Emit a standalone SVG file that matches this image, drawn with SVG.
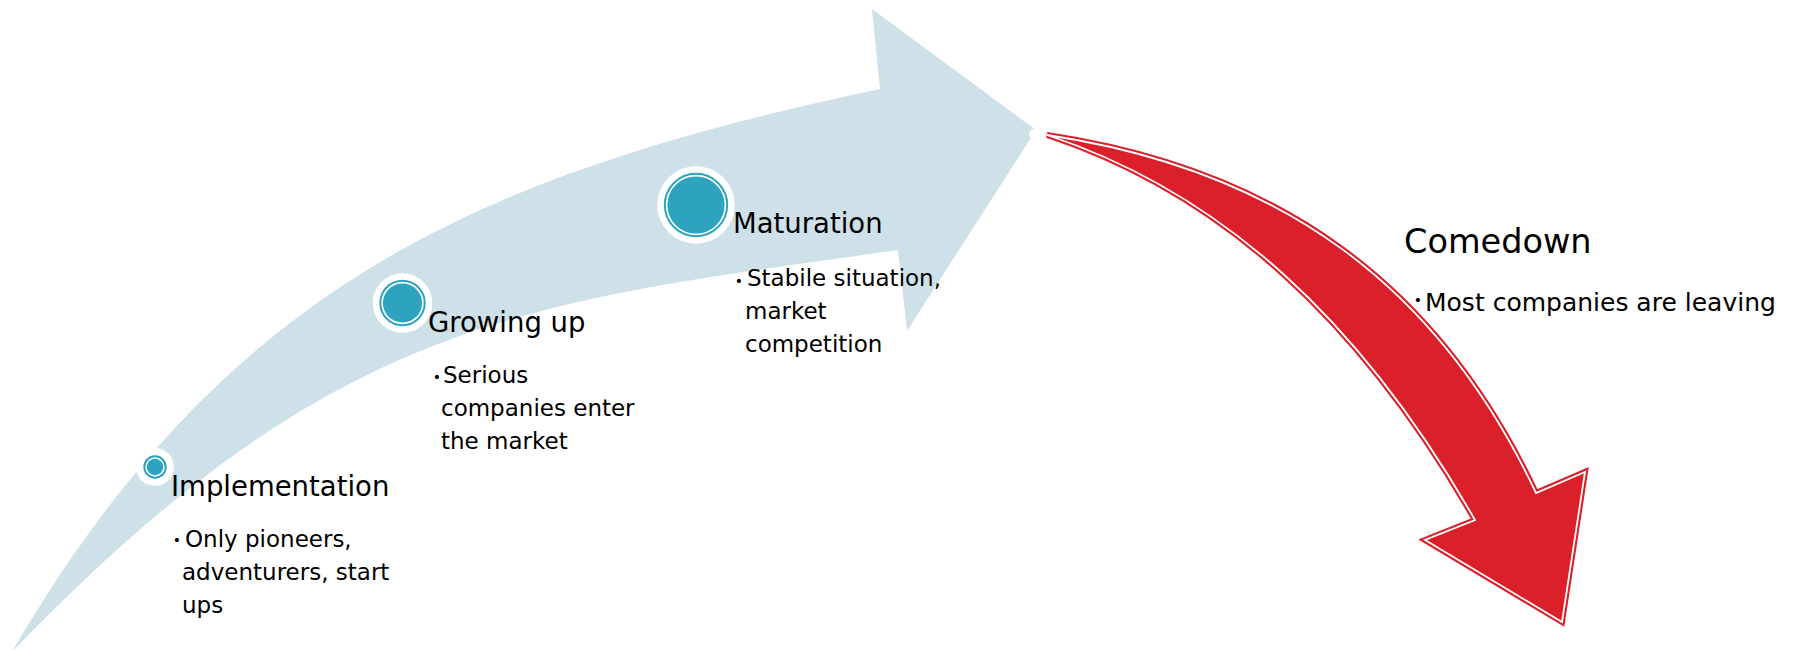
<svg xmlns="http://www.w3.org/2000/svg" width="1793" height="653" viewBox="0 0 1793 653">
<style>
.title{font-family:"DejaVu Sans","Liberation Sans",sans-serif;font-size:27.5px;fill:#000}
.body{font-family:"DejaVu Sans","Liberation Sans",sans-serif;font-size:23px;fill:#000}
.bul{font-family:"DejaVu Sans","Liberation Sans",sans-serif;font-size:14px;fill:#000;text-anchor:middle}
.halo{fill:#fff}
.ring{fill:none;stroke:#2ea3c0;stroke-width:2}
.dot{fill:#2ea3c0}
</style>
<rect width="1793" height="653" fill="#fff"/>
<g id="connectors">
  <path id="growth-arrow" d="M12,652 C225,285 481,173 880,89 L872,9 L1036,130 L907,331 L898,250 C534,302 338,312 12,652 Z" fill="#cee0e8"/>
  <circle cx="1034" cy="134" r="5" fill="#fff"/>
  <g id="decline-arrow">
    <path d="M1047,135 C1280,170 1438,285 1536,493 L1585,472 L1562,622 L1425,540 L1475,520 C1360,319 1220,192 1047,135 Z" fill="#da202a" stroke="#da202a" stroke-width="6" stroke-linejoin="miter"/>
    <path d="M1047,135 C1280,170 1438,285 1536,493 L1585,472 L1562,622 L1425,540 L1475,520 C1360,319 1220,192 1047,135 Z" fill="none" stroke="#fff" stroke-width="1.8" stroke-linejoin="miter"/>
  </g>
</g>
<g id="implementation">
  <circle class="halo" cx="155" cy="467" r="19"/>
  <circle class="ring" cx="155" cy="467" r="10.7"/>
  <circle class="dot" cx="155" cy="467" r="8.2"/>
  <text class="title" x="171" y="496">Implementation</text>
  <text class="bul" x="177" y="545">•</text>
  <text class="body" x="185" y="547">Only pioneers,</text>
  <text class="body" x="182" y="580">adventurers, start</text>
  <text class="body" x="182" y="613">ups</text>
</g>
<g id="growing-up">
  <circle class="halo" cx="402.5" cy="303" r="29.8"/>
  <circle class="ring" cx="402.5" cy="303" r="22.2"/>
  <circle class="dot" cx="402.5" cy="303" r="19.6"/>
  <text class="title" x="428" y="332">Growing up</text>
  <text class="bul" x="437" y="382">•</text>
  <text class="body" x="443" y="383">Serious</text>
  <text class="body" x="441" y="416">companies enter</text>
  <text class="body" x="441" y="449">the market</text>
</g>
<g id="maturation">
  <circle class="halo" cx="696" cy="205" r="38.8"/>
  <circle class="ring" cx="696" cy="205" r="31.2"/>
  <circle class="dot" cx="696" cy="205" r="28.6"/>
  <text class="title" x="733" y="233">Maturation</text>
  <text class="bul" x="739" y="286">•</text>
  <text class="body" x="747" y="286">Stabile situation,</text>
  <text class="body" x="745" y="319">market</text>
  <text class="body" x="745" y="352">competition</text>
</g>
<g id="comedown">
  <text class="title" x="1404" y="253" style="font-size:33.5px">Comedown</text>
  <text class="bul" x="1418" y="305">•</text>
  <text class="body" x="1425" y="311" style="font-size:25px">Most companies are leaving</text>
</g>
</svg>
